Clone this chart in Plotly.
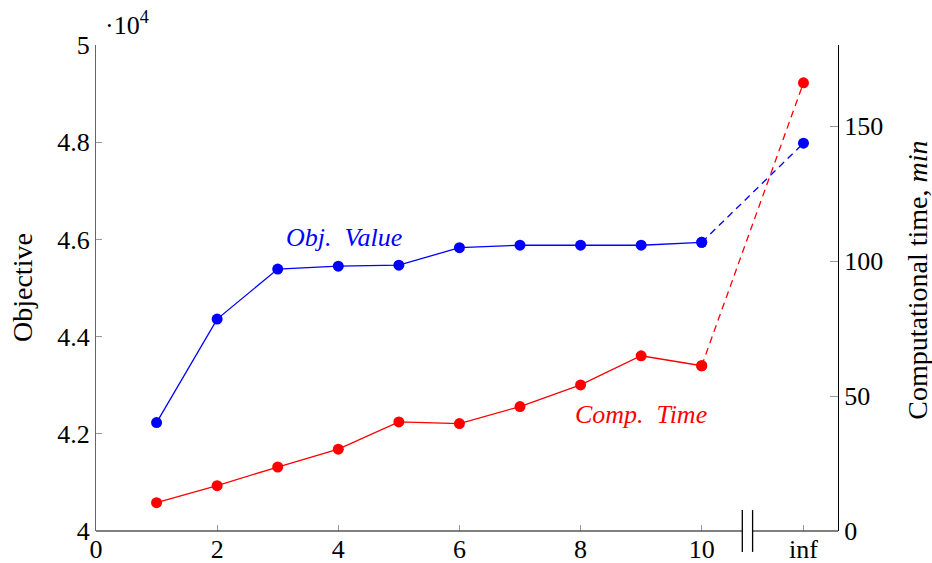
import plotly.graph_objects as go

# ---- data ----
iterations = [1, 2, 3, 4, 5, 6, 7, 8, 9, 10]
INF_POS = 11.68
obj_values = [42230, 44360, 45390, 45450, 45470, 45830, 45880, 45880, 45880, 45940]
obj_inf = 47980
comp_time = [10.5, 16.8, 23.7, 30.3, 40.4, 39.8, 46.1, 54.1, 64.9, 61.2]
comp_inf = 166.0

x_tickvals = [0, 2, 4, 6, 8, 10, INF_POS]
x_ticktext = ["0", "2", "4", "6", "8", "10", "inf"]
y_tickvals = [40000, 42000, 44000, 46000, 48000, 50000]
y_ticktext = ["4", "4.2", "4.4", "4.6", "4.8", "5"]
y2_tickvals = [0, 50, 100, 150]

FONT = "Liberation Serif"
FS = 26
BLUE = "#0000ff"
RED = "#ff0000"

fig = go.Figure()

# Objective (left axis)
fig.add_trace(go.Scatter(x=iterations, y=obj_values, mode="lines+markers",
                         line=dict(color=BLUE, width=1.3),
                         marker=dict(color=BLUE, size=11), showlegend=False))
fig.add_trace(go.Scatter(x=[iterations[-1], INF_POS], y=[obj_values[-1], obj_inf],
                         mode="lines+markers",
                         line=dict(color=BLUE, width=1.3, dash="7px,5px"),
                         marker=dict(color=BLUE, size=11), showlegend=False))
# Computational time (right axis)
fig.add_trace(go.Scatter(x=iterations, y=comp_time, mode="lines+markers",
                         line=dict(color=RED, width=1.3),
                         marker=dict(color=RED, size=11), showlegend=False,
                         yaxis="y2"))
fig.add_trace(go.Scatter(x=[iterations[-1], INF_POS], y=[comp_time[-1], comp_inf],
                         mode="lines+markers",
                         line=dict(color=RED, width=1.3, dash="7px,5px"),
                         marker=dict(color=RED, size=11), showlegend=False,
                         yaxis="y2"))

AX_GRAY = "#666666"
TICKFONT = dict(family=FONT, size=FS, color="black")

fig.update_layout(
    width=932, height=563,
    margin=dict(l=96, r=94, t=45, b=32),
    plot_bgcolor="white", paper_bgcolor="white",
    font=dict(family=FONT, size=FS, color="black"),
    xaxis=dict(range=[0, 12.25], tickvals=x_tickvals, ticktext=x_ticktext,
               ticks="inside", ticklen=6, tickcolor="#999999", tickwidth=1,
               showline=False, showgrid=False, zeroline=False, automargin=False,
               tickfont=TICKFONT),
    yaxis=dict(range=[40000, 50000], tickvals=y_tickvals, ticktext=y_ticktext,
               ticks="inside", ticklen=6, tickcolor="#999999", tickwidth=1,
               showline=True, linecolor=AX_GRAY, linewidth=1.2,
               showgrid=False, zeroline=False, automargin=False,
               tickfont=TICKFONT),
    yaxis2=dict(range=[0, 180], tickvals=y2_tickvals, overlaying="y", side="right",
                ticks="inside", ticklen=8, tickcolor="#999999", tickwidth=1,
                showline=True, linecolor="black", linewidth=1.2,
                showgrid=False, zeroline=False, automargin=False,
                tickfont=TICKFONT),
)

# broken bottom axis line
break_a, break_b = 10.67, 10.84
fig.add_shape(type="line", xref="x", yref="paper", x0=0, x1=break_a, y0=0, y1=0,
              line=dict(color="#555555", width=1.5))
fig.add_shape(type="line", xref="x", yref="paper", x0=break_b, x1=12.25, y0=0, y1=0,
              line=dict(color="#555555", width=1.5))
for bx in (break_a, break_b):
    fig.add_shape(type="line", xref="x", yref="paper", x0=bx, x1=bx, y0=-0.043, y1=0.043,
                  line=dict(color="black", width=1.3))

# axis titles
fig.add_annotation(text="Objective", xref="paper", yref="paper",
                   x=0, xshift=-74, y=0.5, textangle=-90,
                   xanchor="center", yanchor="middle", showarrow=False,
                   font=dict(family=FONT, size=28, color="black"))
fig.add_annotation(text="Computational time, <i>min</i>", xref="paper", yref="paper",
                   x=1, xshift=80, y=0.515, textangle=-90,
                   xanchor="center", yanchor="middle", showarrow=False,
                   font=dict(family=FONT, size=28, color="black"))

# annotations
fig.add_annotation(text="·10<sup>4</sup>", xref="paper", yref="paper",
                   x=0.01, y=1.0, yshift=22, xanchor="left", yanchor="middle",
                   showarrow=False, font=dict(family=FONT, size=FS, color="black"))
fig.add_annotation(text="<i>Obj.  Value</i>", xref="x", yref="y", x=4.1, y=46030,
                   showarrow=False, font=dict(family=FONT, size=FS, color=BLUE))
fig.add_annotation(text="<i>Comp.  Time</i>", xref="x", yref="y2", x=9.0, y=43,
                   showarrow=False, font=dict(family=FONT, size=FS, color=RED))

fig.write_html("out.html", config={"displayModeBar": False},
               post_script="document.body.style.margin='0';")
